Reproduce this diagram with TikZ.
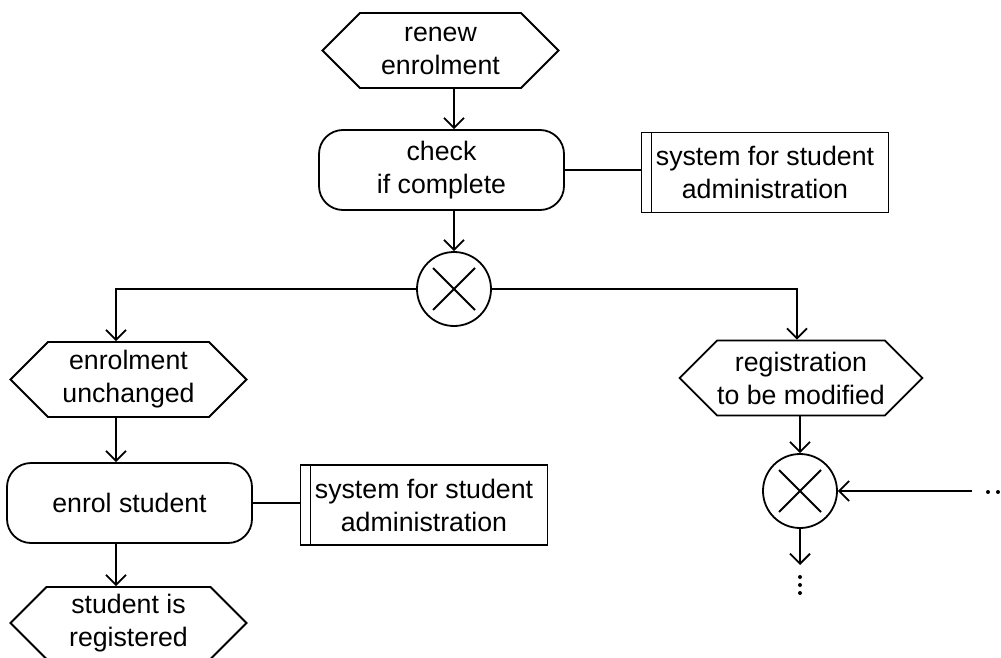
\documentclass[tikz,border=0pt]{standalone}
\usepackage{fontspec}
\setmainfont{Liberation Sans}
\usetikzlibrary{shapes.symbols,arrows.meta}
\begin{document}
\begin{tikzpicture}[x=1pt,y=-1pt,
  every node/.style={font=\fontsize{26.7}{33}\selectfont, align=center, inner sep=0pt},
  line/.style={line width=1.8pt},
  flow/.style={line, -{Straight Barb[length=10pt,width=20pt,line width=1.8pt]}},
  event/.style={draw, line width=1.8pt, signal, signal to=west and east,
    signal pointer angle=90, minimum width=236pt, minimum height=75pt},
  func/.style={draw, line width=1.8pt, rectangle, rounded corners=24pt,
    minimum width=245pt, minimum height=80pt},
  sysbox/.style={draw, line width=1.8pt, rectangle, minimum width=247pt,
    minimum height=80pt,
    path picture={\draw[line width=1.8pt]
      ([xshift=10pt]path picture bounding box.north west) --
      ([xshift=10pt]path picture bounding box.south west);}},
  xor/.style={draw, line width=1.8pt, circle, minimum size=74pt,
    path picture={\draw[line width=1.8pt]
      ([shift={(-21pt,-21pt)}]path picture bounding box.center) --
      ([shift={(21pt,21pt)}]path picture bounding box.center)
      ([shift={(-21pt,21pt)}]path picture bounding box.center) --
      ([shift={(21pt,-21pt)}]path picture bounding box.center);}},
  dot/.style={fill=black}
]
\useasboundingbox (0,0) rectangle (1001,658);
\fill[white] (0,0) rectangle (1001,658);
\clip (0,0) rectangle (1001,658);

% events, functions, systems and connectors
\node[event] (renew) at (440.5,50.5) {renew\\enrolment};
\node[func] (check) at (441.5,170) {check\\if complete};
\node[sysbox] (sys1) at (765,172.5) {system for student\\administration};
\node[xor] (xor1) at (454,289) {};

\node[event] (unch) at (128.5,379.5) {enrolment\\unchanged};
\node[func] (enrol) at (129.5,503) {enrol student};
\node[sysbox] (sys2) at (424,505) {system for student\\administration};
\node[event, minimum height=72pt] (stud) at (128.5,623) {student is\\registered};

\node[event] (regmod) at (801,378) {registration\\to be modified};
\node[xor] (xor2) at (800,491) {};

% columns of the vertical connectors
\coordinate (colL) at (116,0);
\coordinate (colR) at (797,0);
\coordinate (end2) at (800,565);
\coordinate (in2) at (972,491);

\draw[flow] (renew.south -| xor1) -- (check.north -| xor1);
\draw[flow] (check.south -| xor1) -- (xor1.north);
\draw[flow] (xor1.west) -| (unch.north -| colL);
\draw[flow] (xor1.east) -| (regmod.north -| colR);
\draw[line] (check.east) -- (check.east -| sys1.west);

\draw[flow] (unch.south -| colL) -- (enrol.north -| colL);
\draw[flow] (enrol.south -| colL) -- (stud.north -| colL);
\draw[line] (enrol.east) -- (enrol.east -| sys2.west);

\draw[flow] (regmod.south -| xor2) -- (xor2.north);
\draw[flow] (xor2.south) -- (end2);
\draw[flow] (in2) -- (xor2.east);

% continuation dots
\fill[dot] (800,577) circle (2pt) (800,585) circle (2pt) (800,593) circle (2pt);
\fill[dot] (988,492) circle (2pt) (998,492) circle (2pt) (1008,492) circle (2pt);
\end{tikzpicture}
\end{document}
